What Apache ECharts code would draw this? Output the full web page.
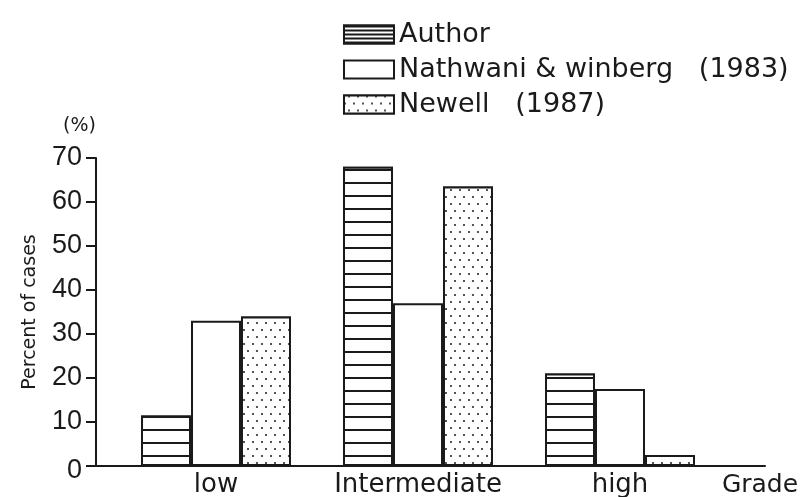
<!DOCTYPE html>
<html><head><meta charset="utf-8">
<script src="https://cdn.jsdelivr.net/npm/echarts@6/dist/echarts.min.js"></script>
<style>html,body{margin:0;padding:0;background:#fff}#c{width:804px;height:497px}</style>
</head><body><div id="c"></div>
<script>
const categories = ['low', 'Intermediate', 'high'];
const seriesNames = ['Author', 'Nathwani & winberg   (1983)', 'Newell   (1987)'];
const author = [11.5, 68, 21];
const nathwani = [33, 37, 17.5];
const newell = [34, 63.5, 2.5];
const yTicks = [0, 10, 20, 30, 40, 50, 60, 70];

const FONT = 'DejaVu Sans';
const NUMFONT = 'Liberation Sans';
const INK = '#1a1a1a';
const stripe = {symbol: 'rect', symbolSize: 1, color: INK, dashArrayX: [1, 0], dashArrayY: [2, 11], rotation: 0, backgroundColor: '#fff'};
const stripeLegend = {symbol: 'rect', symbolSize: 1, color: INK, dashArrayX: [1, 0], dashArrayY: [2, 2], rotation: 0, backgroundColor: '#fff'};
const dots = {symbol: 'circle', symbolSize: 1, color: INK, dashArrayX: [[2, 7], [0, 4, 2, 3]], dashArrayY: [2, 5], rotation: 0, backgroundColor: '#fff'};

function mk(name, data, decal) {
  const s = {
    name: name, type: 'bar', data: data, barWidth: 50, barGap: '0%',
    xAxisIndex: 0, yAxisIndex: 0,
    itemStyle: {color: '#fff', borderColor: INK, borderWidth: 2}
  };
  if (decal) s.itemStyle.decal = decal;
  return s;
}

const chart = echarts.init(document.getElementById('c'), null, {renderer: 'canvas'});
chart.setOption({
  animation: false,
  backgroundColor: '#fff',
  textStyle: {fontFamily: FONT, color: INK},
  legend: {
    orient: 'vertical', left: 338, top: 16, itemGap: 8, itemWidth: 50, itemHeight: 18, icon: 'rect',
    textStyle: {fontSize: 27, color: INK, fontFamily: FONT},
    data: [
      {name: seriesNames[0], itemStyle: {decal: stripeLegend}},
      {name: seriesNames[1]},
      {name: seriesNames[2], itemStyle: {decal: dots}}
    ]
  },
  grid: [
    {left: 115, right: 83, top: 158, bottom: 31, outerBoundsMode: 'none'},
    {left: 96, right: 39, top: 158, bottom: 31, outerBoundsMode: 'none'}
  ],
  xAxis: [
    {type: 'category', gridIndex: 0, data: categories,
     axisLine: {show: false}, axisTick: {show: false},
     axisLabel: {fontSize: 26, color: INK, margin: 6, interval: 0, fontFamily: FONT}},
    {type: 'value', gridIndex: 1, min: 0, max: 1,
     axisLine: {show: true, lineStyle: {color: INK, width: 2}},
     axisTick: {show: false}, axisLabel: {show: false}, splitLine: {show: false},
     name: 'Grade', nameLocation: 'end', nameGap: -5,
     nameTextStyle: {fontSize: 25, color: INK, align: 'center', verticalAlign: 'top', padding: [7, 0, 0, 0], fontFamily: FONT}}
  ],
  yAxis: [
    {type: 'value', gridIndex: 0, min: yTicks[0], max: yTicks[yTicks.length - 1], interval: 10, offset: 19,
     axisLine: {show: true, lineStyle: {color: INK, width: 2}},
     axisTick: {show: true, length: 10, lineStyle: {color: INK, width: 2}},
     splitLine: {show: false},
     axisLabel: {fontSize: 27, color: INK, margin: 14, fontFamily: NUMFONT,
       formatter: function (v) { return v === 0 ? '{z|0}' : String(v); },
       rich: {z: {fontSize: 27, color: INK, padding: [10, 0, 0, 0], fontFamily: NUMFONT}}},
     name: 'Percent of cases', nameLocation: 'middle', nameGap: 56,
     nameTextStyle: {fontSize: 19, color: INK, fontFamily: FONT}},
    {type: 'value', gridIndex: 1, show: false, min: 0, max: 1}
  ],
  graphic: [
    {type: 'text', left: 63, top: 117, style: {text: '(%)', fontSize: 19, fill: INK, fontFamily: FONT}}
  ],
  series: [
    mk(seriesNames[0], author, stripe),
    mk(seriesNames[1], nathwani, null),
    mk(seriesNames[2], newell, dots)
  ]
});
</script></body></html>
